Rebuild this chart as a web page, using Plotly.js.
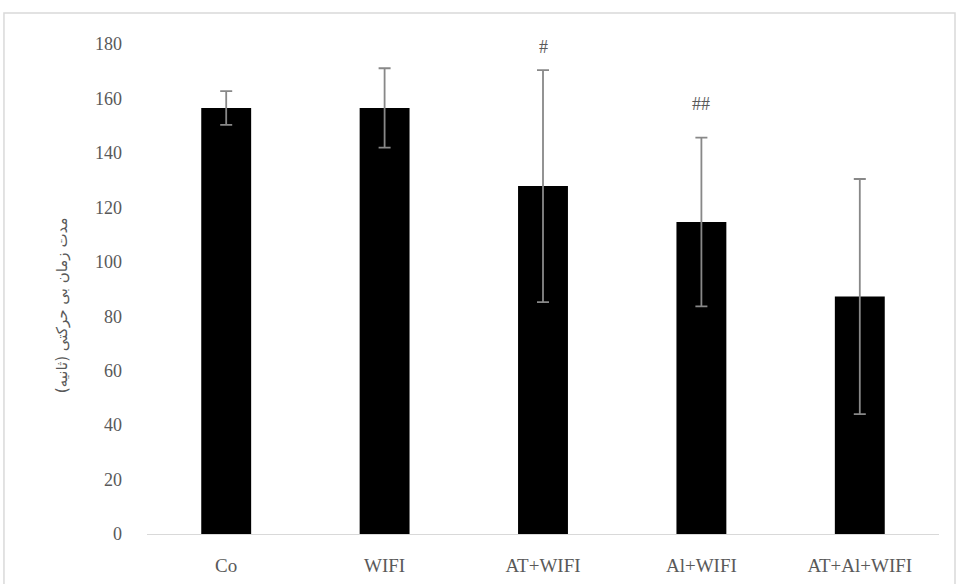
<!DOCTYPE html>
<html>
<head>
<meta charset="utf-8">
<script src="https://cdn.plot.ly/plotly-3.0.1.min.js"></script>
<style>html,body{margin:0;padding:0;background:#fff;}#chart{width:956px;height:584px;}</style>
</head>
<body>
<div id="chart"></div>
<script>
const categories = ["Co", "WIFI", "AT+WIFI", "Al+WIFI", "AT+Al+WIFI"];
const means = [156.5, 156.5, 127.8, 114.6, 87.2];
const errors = [6.2, 14.6, 42.6, 31.0, 43.2];
const markLabels = ["", "", "#", "##", ""];
const markY = [0, 0, 179, 158, 0];
const yTitle = "مدت زمان بی حرکتی (ثانیه)";

const fontFamily = "'Liberation Serif', 'DejaVu Serif', serif";

const trace = {
  type: "bar",
  x: categories,
  y: means,
  marker: {color: "#000000"},
  error_y: {type: "data", array: errors, visible: true, color: "#888888", thickness: 1.8, width: 6},
  hoverinfo: "x+y"
};

const annotations = [];
categories.forEach((c, i) => {
  if (markLabels[i]) {
    annotations.push({x: c, y: markY[i], xref: "x", yref: "y", text: markLabels[i], showarrow: false,
      font: {family: fontFamily, size: 18, color: "#595959"}});
  }
});
annotations.push({xref: "paper", yref: "paper", x: -0.108, y: 0.468, xanchor: "center", yanchor: "middle",
  text: yTitle, textangle: -90, showarrow: false,
  font: {family: "'DejaVu Sans', sans-serif", size: 15, color: "#595959"}});

const layout = {
  width: 956, height: 584,
  margin: {l: 147, r: 17, t: 44, b: 50},
  paper_bgcolor: "#ffffff", plot_bgcolor: "#ffffff",
  bargap: 0.685,
  showlegend: false,
  font: {family: fontFamily, color: "#595959", size: 18},
  xaxis: {
    showline: true, linecolor: "#d9d9d9", linewidth: 1,
    showgrid: false, zeroline: false, ticks: "",
    tickfont: {family: fontFamily, size: 19, color: "#595959"},
    ticklabelstandoff: 14
  },
  yaxis: {
    range: [0, 180], dtick: 20, showgrid: false, zeroline: false, showline: false, ticks: "",
    tickfont: {family: fontFamily, size: 18, color: "#595959"},
    ticklabelstandoff: 24
  },
  annotations: annotations,
  shapes: [{type: "rect", xref: "paper", yref: "paper", x0: -0.1806, x1: 1.0202, y0: -0.12, y1: 1.0633,
    line: {color: "#d9d9d9", width: 1.5}, fillcolor: "rgba(0,0,0,0)", layer: "below"}]
};

Plotly.newPlot("chart", [trace], layout, {displayModeBar: false, staticPlot: true});
</script>
</body>
</html>
